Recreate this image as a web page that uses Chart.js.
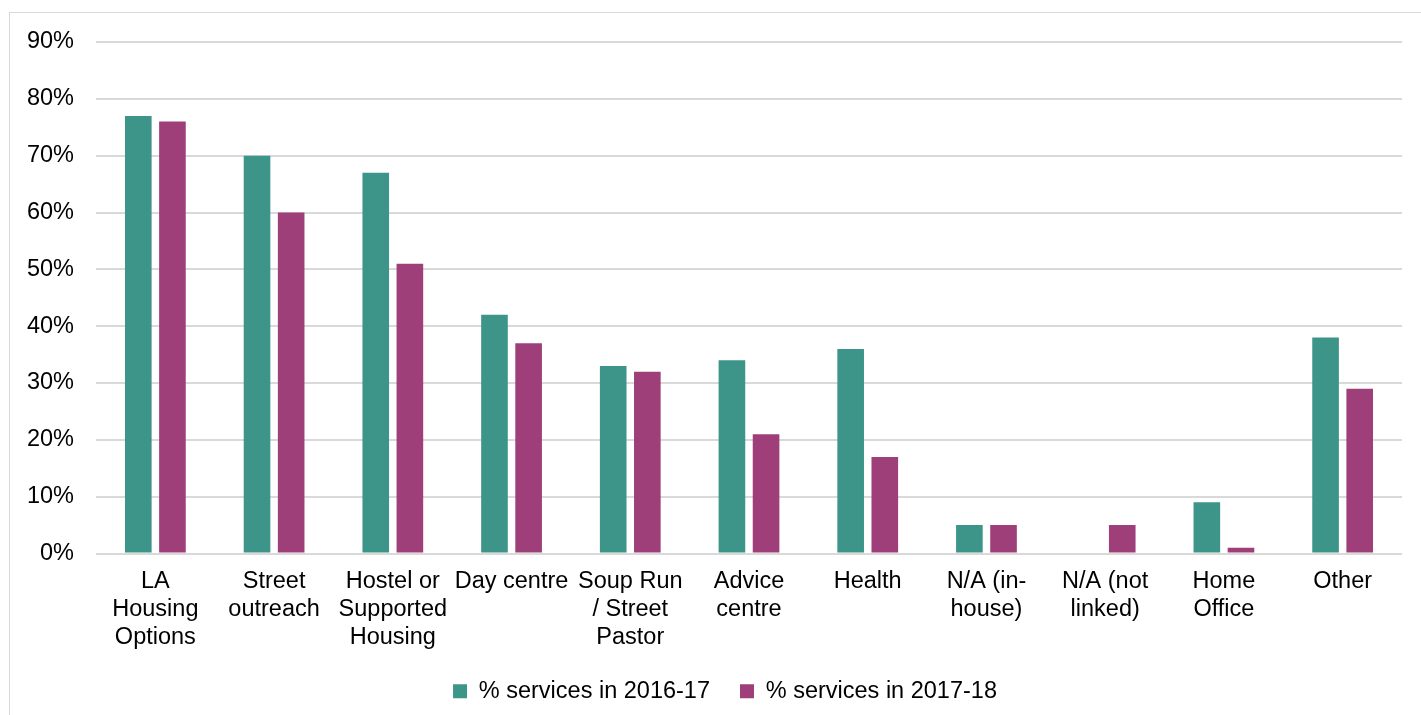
<!DOCTYPE html>
<html>
<head>
<meta charset="utf-8">
<script src="https://cdn.jsdelivr.net/npm/chart.js@4/dist/chart.umd.min.js"></script>
<style>
  html, body { margin: 0; padding: 0; background: #ffffff; overflow: hidden; }
  body { width: 1421px; height: 715px; position: relative; }
  #frame {
    position: absolute; left: 9px; top: 12px; width: 1440px; height: 740px;
    border-left: 1.5px solid #d9d9d9; border-top: 1.5px solid #d9d9d9;
  }
  #wrap { position: absolute; left: 0; top: 0; width: 1421px; height: 715px; }
</style>
</head>
<body>
<div id="frame"></div>
<div id="wrap"><canvas id="chart" width="1421" height="715"></canvas></div>
<script>
// Service types that referred clients
const categories = [
  ['LA', 'Housing', 'Options'],
  ['Street', 'outreach'],
  ['Hostel or', 'Supported', 'Housing'],
  'Day centre',
  ['Soup Run', '/ Street', 'Pastor'],
  ['Advice', 'centre'],
  'Health',
  ['N/A (in-', 'house)'],
  ['N/A (not', 'linked)'],
  ['Home', 'Office'],
  'Other'
];

// Percentage of services, per year
const services2016 = [77, 70, 67, 42, 33, 34, 36, 5, 0, 9, 38];
const services2017 = [76, 60, 51, 37, 32, 21, 17, 5, 5, 1, 29];

const seriesNames = ['% services in 2016-17', '% services in 2017-18'];
const yTicks = [0, 10, 20, 30, 40, 50, 60, 70, 80, 90];

const FONT = '"Liberation Sans", Arial, Helvetica, sans-serif';

// Centre the legend under the plot rather than under the whole canvas
const legendOffset = {
  id: 'legendOffset',
  afterLayout(chart) {
    if (chart.legend) { chart.legend.left += 28; }
  }
};

new Chart(document.getElementById('chart'), {
  type: 'bar',
  data: {
    labels: categories,
    datasets: [
      { label: seriesNames[0], data: services2016, backgroundColor: '#3d9488' },
      { label: seriesNames[1], data: services2017, backgroundColor: '#9e3f7a' }
    ]
  },
  plugins: [legendOffset],
  options: {
    responsive: false,
    animation: false,
    devicePixelRatio: 1,
    categoryPercentage: 0.575,
    barPercentage: 0.78,
    layout: { padding: { left: 20, right: 19, top: 42, bottom: 2 } },
    plugins: {
      tooltip: { enabled: false },
      legend: {
        position: 'bottom',
        align: 'center',
        labels: {
          color: '#000000',
          font: { family: FONT, size: 23.5 },
          boxWidth: 14,
          boxHeight: 14,
          padding: 30
        }
      }
    },
    scales: {
      x: {
        grid: { display: false },
        border: { display: false },
        ticks: {
          color: '#000000',
          font: { family: FONT, size: 23.5, lineHeight: 1.19 },
          autoSkip: false,
          maxRotation: 0,
          minRotation: 0,
          padding: 6
        },
        afterFit: (scale) => { scale.height = 96; }
      },
      y: {
        min: 0,
        max: 90,
        afterBuildTicks: (scale) => { scale.ticks = yTicks.map(v => ({ value: v })); },
        afterFit: (scale) => { scale.width = 76; },
        grid: { color: '#d9d9d9', lineWidth: 2, drawTicks: false },
        border: { display: false },
        ticks: {
          color: '#000000',
          font: { family: FONT, size: 23.5 },
          padding: 22,
          callback: (v) => v + '%'
        }
      }
    }
  }
});
</script>
</body>
</html>
